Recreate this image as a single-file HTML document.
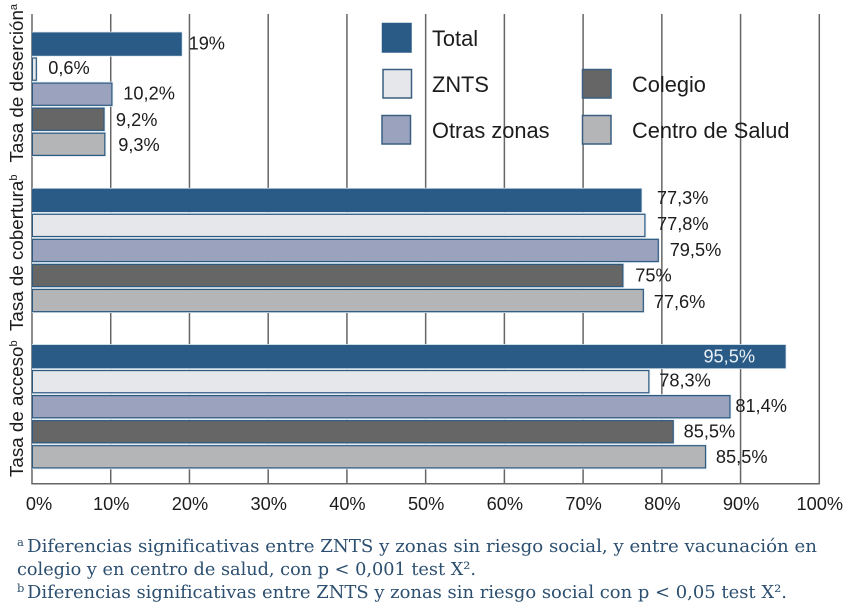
<!DOCTYPE html>
<html lang="es">
<head>
<meta charset="utf-8">
<title>Tasas de deserción, cobertura y acceso</title>
<style>
html,body{margin:0;padding:0;background:#fff;}
#chart{display:block;width:850px;height:606px;}
text{font-family:"Liberation Sans",sans-serif;fill:#1c1c1c;}
.note{font-family:"DejaVu Serif","Liberation Serif",serif;font-size:18px;fill:#2c4f70;}
.sup{font-family:"DejaVu Serif","Liberation Serif",serif;font-size:11.5px;fill:#2c4f70;}
</style>
</head>
<body>
<svg id="chart" xmlns="http://www.w3.org/2000/svg" width="850" height="606" viewBox="0 0 850 606">
  <rect width="850" height="606" fill="#fff"/>
  <g id="grid"></g>
  <g id="bars"></g>
  <g id="axis"></g>
  <g id="ylabels"></g>
  <g id="values"></g>
  <g id="legend"></g>
  <g>
    <text class="sup" x="17" y="546">a</text>
    <text class="note" x="27" y="552" textLength="790" lengthAdjust="spacingAndGlyphs">Diferencias significativas entre ZNTS y zonas sin riesgo social, y entre vacunación en</text>
    <text class="note" x="17" y="575" textLength="459" lengthAdjust="spacingAndGlyphs">colegio y en centro de salud, con p &lt; 0,001 test X².</text>
    <text class="sup" x="17" y="592">b</text>
    <text class="note" x="27" y="598" textLength="760" lengthAdjust="spacingAndGlyphs">Diferencias significativas entre ZNTS y zonas sin riesgo social con p &lt; 0,05 test X².</text>
  </g>
</svg>
<script>
const categories = ['Tasa de deserción', 'Tasa de cobertura', 'Tasa de acceso'];
const categoryMarks = ['a', 'b', 'b'];
const seriesNames = ['Total', 'ZNTS', 'Otras zonas', 'Colegio', 'Centro de Salud'];
const totalValues = [19, 77.4, 95.7];
const zntsValues = [0.6, 77.9, 78.4];
const otrasValues = [10.2, 79.6, 88.7];
const colegioValues = [9.2, 75.1, 81.5];
const centroValues = [9.3, 77.7, 85.6];
const totalLabels = ['19%', '77,3%', '95,5%'];
const zntsLabels = ['0,6%', '77,8%', '78,3%'];
const otrasLabels = ['10,2%', '79,5%', '81,4%'];
const colegioLabels = ['9,2%', '75%', '85,5%'];
const centroLabels = ['9,3%', '77,6%', '85,5%'];
const tickValues = [0, 10, 20, 30, 40, 50, 60, 70, 80, 90, 100];

const seriesValues = [totalValues, zntsValues, otrasValues, colegioValues, centroValues];
const seriesLabels = [totalLabels, zntsLabels, otrasLabels, colegioLabels, centroLabels];
const seriesFill = ['#2a5b86', '#e6e7ea', '#9aa2bd', '#666667', '#b4b5b7'];
const seriesStroke = ['#2a5b86', '#2e5a80', '#2e5a80', '#2e5a80', '#2e5a80'];
const labelGapX = [[7, 11.5, 11, 11.5, 13], [15.5, 11.7, 11, 12, 10], [-82, 10, 5, 10, 10]];
const labelShiftY = [[5.5, 5, 5.5, 6.5, 6.5], [3.5, 4.5, 5.5, 6, 7.5], [6, 5, 5.5, 5.7, 6.3]];

const NS = 'http://www.w3.org/2000/svg';
const X0 = 32, XPER = 7.873, AXIS_TOP = 14, AXIS_BOTTOM = 483.7;
function xScale(v) { return X0 + v * XPER; }
function groupTop(g) { return 33 + g * 156.25; }
function barTop(g, s) { return groupTop(g) + s * 25.05; }
const BAR_H = 22.2;

function make(tag, attrs, parent, txt) {
  const el = document.createElementNS(NS, tag);
  for (const k in attrs) el.setAttribute(k, attrs[k]);
  if (txt !== undefined) el.textContent = txt;
  parent.appendChild(el);
  return el;
}
function slug(s) {
  return s.toLowerCase().normalize('NFD').replace(/[\u0300-\u036f]/g, '').replace(/[^a-z0-9]+/g, '-');
}

const gridG = document.getElementById('grid');
const axisG = document.getElementById('axis');
tickValues.forEach(function (t) {
  const line = make('line', { x1: xScale(t), x2: xScale(t), y1: AXIS_TOP, y2: AXIS_BOTTOM, stroke: '#666', 'stroke-width': 1.5 }, gridG);
  
  
  const label = make('text', { x: xScale(t) + (t === 0 ? 7 : 0.5), y: 510, 'text-anchor': 'middle', 'font-size': 18.2 }, axisG, t + '%');
  
  
});
const baseLine = make('line', { x1: X0 - 0.7, x2: xScale(100) + 0.7, y1: AXIS_BOTTOM, y2: AXIS_BOTTOM, stroke: '#666', 'stroke-width': 1.5 }, axisG);



const barsG = document.getElementById('bars');
const valuesG = document.getElementById('values');
categories.forEach(function (cat, g) {
  seriesNames.forEach(function (name, s) {
    const v = seriesValues[s][g];
    const y = barTop(g, s);
    const w = xScale(v) - X0;
    const halo = make('rect', { x: X0, y: y - 1.4, width: w + 1, height: BAR_H + 2.8, fill: '#dfeaf3' }, barsG);
    
    
    const bar = make('rect', { x: X0 + 0.4, y: y, width: w - 0.8, height: BAR_H, fill: seriesFill[s], stroke: seriesStroke[s], 'stroke-width': 1.2 }, barsG);
    
    
    const label = make('text', {
      x: xScale(v) + labelGapX[g][s],
      y: y + BAR_H / 2 + labelShiftY[g][s],
      'font-size': 18.2,
      style: labelGapX[g][s] < 0 ? 'fill:#eaf0f5' : ''
    }, valuesG, seriesLabels[s][g]);
    
    
  });
});

const yG = document.getElementById('ylabels');
const yStarts = [162.5, 331, 477];
categories.forEach(function (cat, g) {
  const t = make('text', { transform: 'translate(23 ' + yStarts[g] + ') rotate(-90)', 'font-size': 18.8 }, yG, cat);
  
  
  const sup = make('tspan', { dy: -6, 'font-size': 11 }, t, categoryMarks[g]);
  
  
});

const legendG = document.getElementById('legend');
const legendCol = [382, 382.5, 381.5, 582, 582];
const legendRow = [23, 69, 115, 69, 115];
const legendTextX = [432, 432, 432, 632, 632];
seriesNames.forEach(function (name, s) {
  const box = make('rect', { x: legendCol[s] + 0.5, y: legendRow[s] + 0.5, width: 28.5, height: 28.5, fill: seriesFill[s], stroke: seriesStroke[s] === '#2a5b86' ? '#2a5b86' : '#3a5f80', 'stroke-width': 1.5 }, legendG);
  
  
  const label = make('text', { x: legendTextX[s], y: legendRow[s] + 23, 'font-size': 21.8 }, legendG, name);
  
  
});
</script>
</body>
</html>
